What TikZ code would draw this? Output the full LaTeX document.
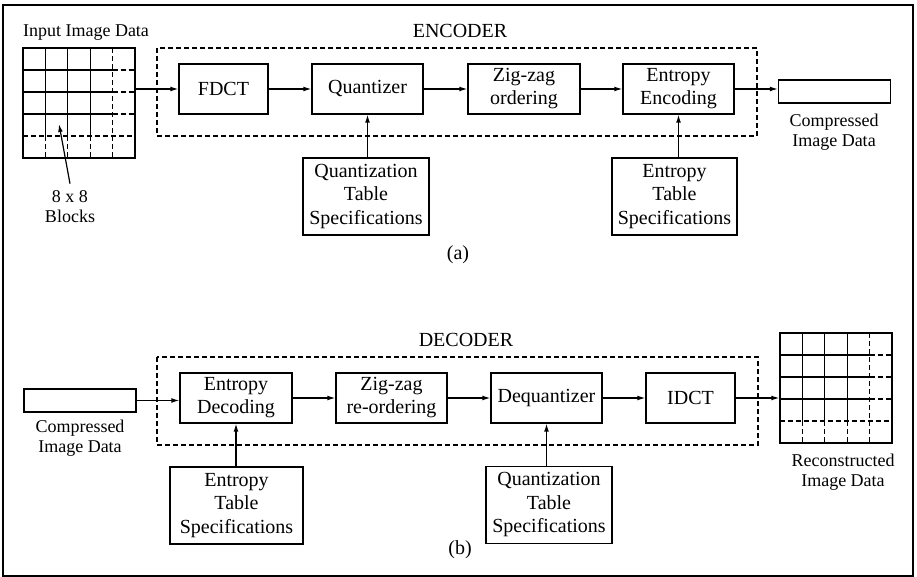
\documentclass[tikz,border=0pt]{standalone}
\usepackage{fontspec}
\setmainfont{Liberation Serif}
\usetikzlibrary{arrows.meta}

\begin{document}
\begin{tikzpicture}[x=0.5pt,y=-0.5pt,line width=0.6pt,
   >={Latex[length=4pt,width=2.4pt]},
   every node/.style={font=\fontsize{10}{11.5}\selectfont},
   blk/.style={draw,inner sep=0pt,minimum height=25pt,align=center},
   spec/.style={draw,inner sep=0pt,minimum width=63pt,minimum height=38.5pt,align=center,
     font=\fontsize{10}{11.75}\selectfont},
   strip/.style={draw,inner sep=0pt,minimum width=56pt,minimum height=11.5pt},
   lbl/.style={font=\fontsize{9}{10}\selectfont,align=center},
   stage/.style={draw,dash pattern=on 2.5pt off 1.5pt},
   pics/blockgrid/.style={code={
     \draw (0,0) rectangle (112,110);
     \foreach \i in {1,2,3} {
       \draw (22.4*\i,0) -- (22.4*\i,88);
       \draw[stage] (22.4*\i,88) -- (22.4*\i,110);
       \draw (0,22*\i) -- (89.6,22*\i);
       \draw[stage] (89.6,22*\i) -- (112,22*\i);
     }
     \draw[stage] (89.6,0) -- (89.6,110);
     \draw[stage] (0,88) -- (112,88);
   }}]
   \useasboundingbox (0,0) rectangle (917,577);
   \draw[line width=0.9pt] (3,5) rectangle (913,576);

   % encoder
   \node (enctitle) at (460,31) {ENCODER};
   \draw[stage] (157,48) rectangle (757,136);
   \node[lbl] (intxt) at (86,33) {Input Image Data};
   \pic at (23,48) {blockgrid};
   \node[inner sep=0pt,minimum width=56pt,minimum height=55pt] (inimg) at (79,102.5) {};
   \node[lbl] (blktxt) at (70,207) {8 x 8\\Blocks};
   \coordinate (blkpt) at (59,124);

   \node[blk,minimum width=44.5pt] (fdct) at (223.5,89) {FDCT};
   \node[blk,minimum width=55.5pt] (quant) at (367.5,89) {Quantizer};
   \node[blk,minimum width=56pt] (zigzag) at (524,89) {Zig-zag\\ordering};
   \node[blk,minimum width=55.5pt] (entenc) at (678.5,89) {Entropy\\Encoding};
   \node[strip] (cmpout) at (834.5,91.5) {};
   \node[lbl] (cmpouttxt) at (834,132) {Compressed\\Image Data};
   \node[spec] (qspecA) at (366,196.5) {Quantization\\Table\\Specifications};
   \node[spec,minimum width=62.5pt] (especA) at (674.5,196.5) {Entropy\\Table\\Specifications};
   \node (atxt) at (458,255) {(a)};

   \draw[->] (blktxt.north) -- (blkpt);
   \draw[->] (inimg.east |- fdct) -- (fdct);
   \draw[->] (fdct) -- (quant);
   \draw[->] (quant) -- (zigzag);
   \draw[->] (zigzag) -- (entenc);
   \draw[->] (entenc.east) -- (entenc.east -| cmpout.west);
   \draw[->] (qspecA.north -| quant) -- (quant);
   \draw[->] (especA.north -| entenc) -- (entenc);

   % decoder
   \node (dectitle) at (466,340) {DECODER};
   \draw[stage] (157,357) rectangle (758,445);
   \node[strip] (cmpin) at (80,400.5) {};
   \node[lbl] (cmpintxt) at (80,438) {Compressed\\Image Data};

   \node[blk,minimum width=56pt] (entdec) at (236,398) {Entropy\\Decoding};
   \node[blk,minimum width=55.5pt] (rezig) at (391.5,398) {Zig-zag\\re-ordering};
   \node[blk,minimum width=55.5pt] (dequant) at (546.5,398) {Dequantizer};
   \node[blk,minimum width=44.5pt] (idct) at (690.5,398) {IDCT};
   \pic at (780,333) {blockgrid};
   \node[inner sep=0pt,minimum width=56pt,minimum height=55pt] (outimg) at (836,388) {};
   \node[lbl] (outtxt) at (843,472) {Reconstructed\\Image Data};
   \node[spec,minimum width=66.5pt] (especB) at (236.5,505.5) {Entropy\\Table\\Specifications};
   \node[spec] (qspecB) at (549,505) {Quantization\\Table\\Specifications};
   \node (btxt) at (460,550) {(b)};

   \draw[->] (cmpin.east) -- (cmpin.east -| entdec.west);
   \draw[->] (entdec) -- (rezig);
   \draw[->] (rezig) -- (dequant);
   \draw[->] (dequant) -- (idct);
   \draw[->] (idct.east) -- (idct.east -| outimg.west);
   \draw[->] (especB.north -| entdec) -- (entdec);
   \draw[->] (qspecB.north -| dequant) -- (dequant);
\end{tikzpicture}
\end{document}
